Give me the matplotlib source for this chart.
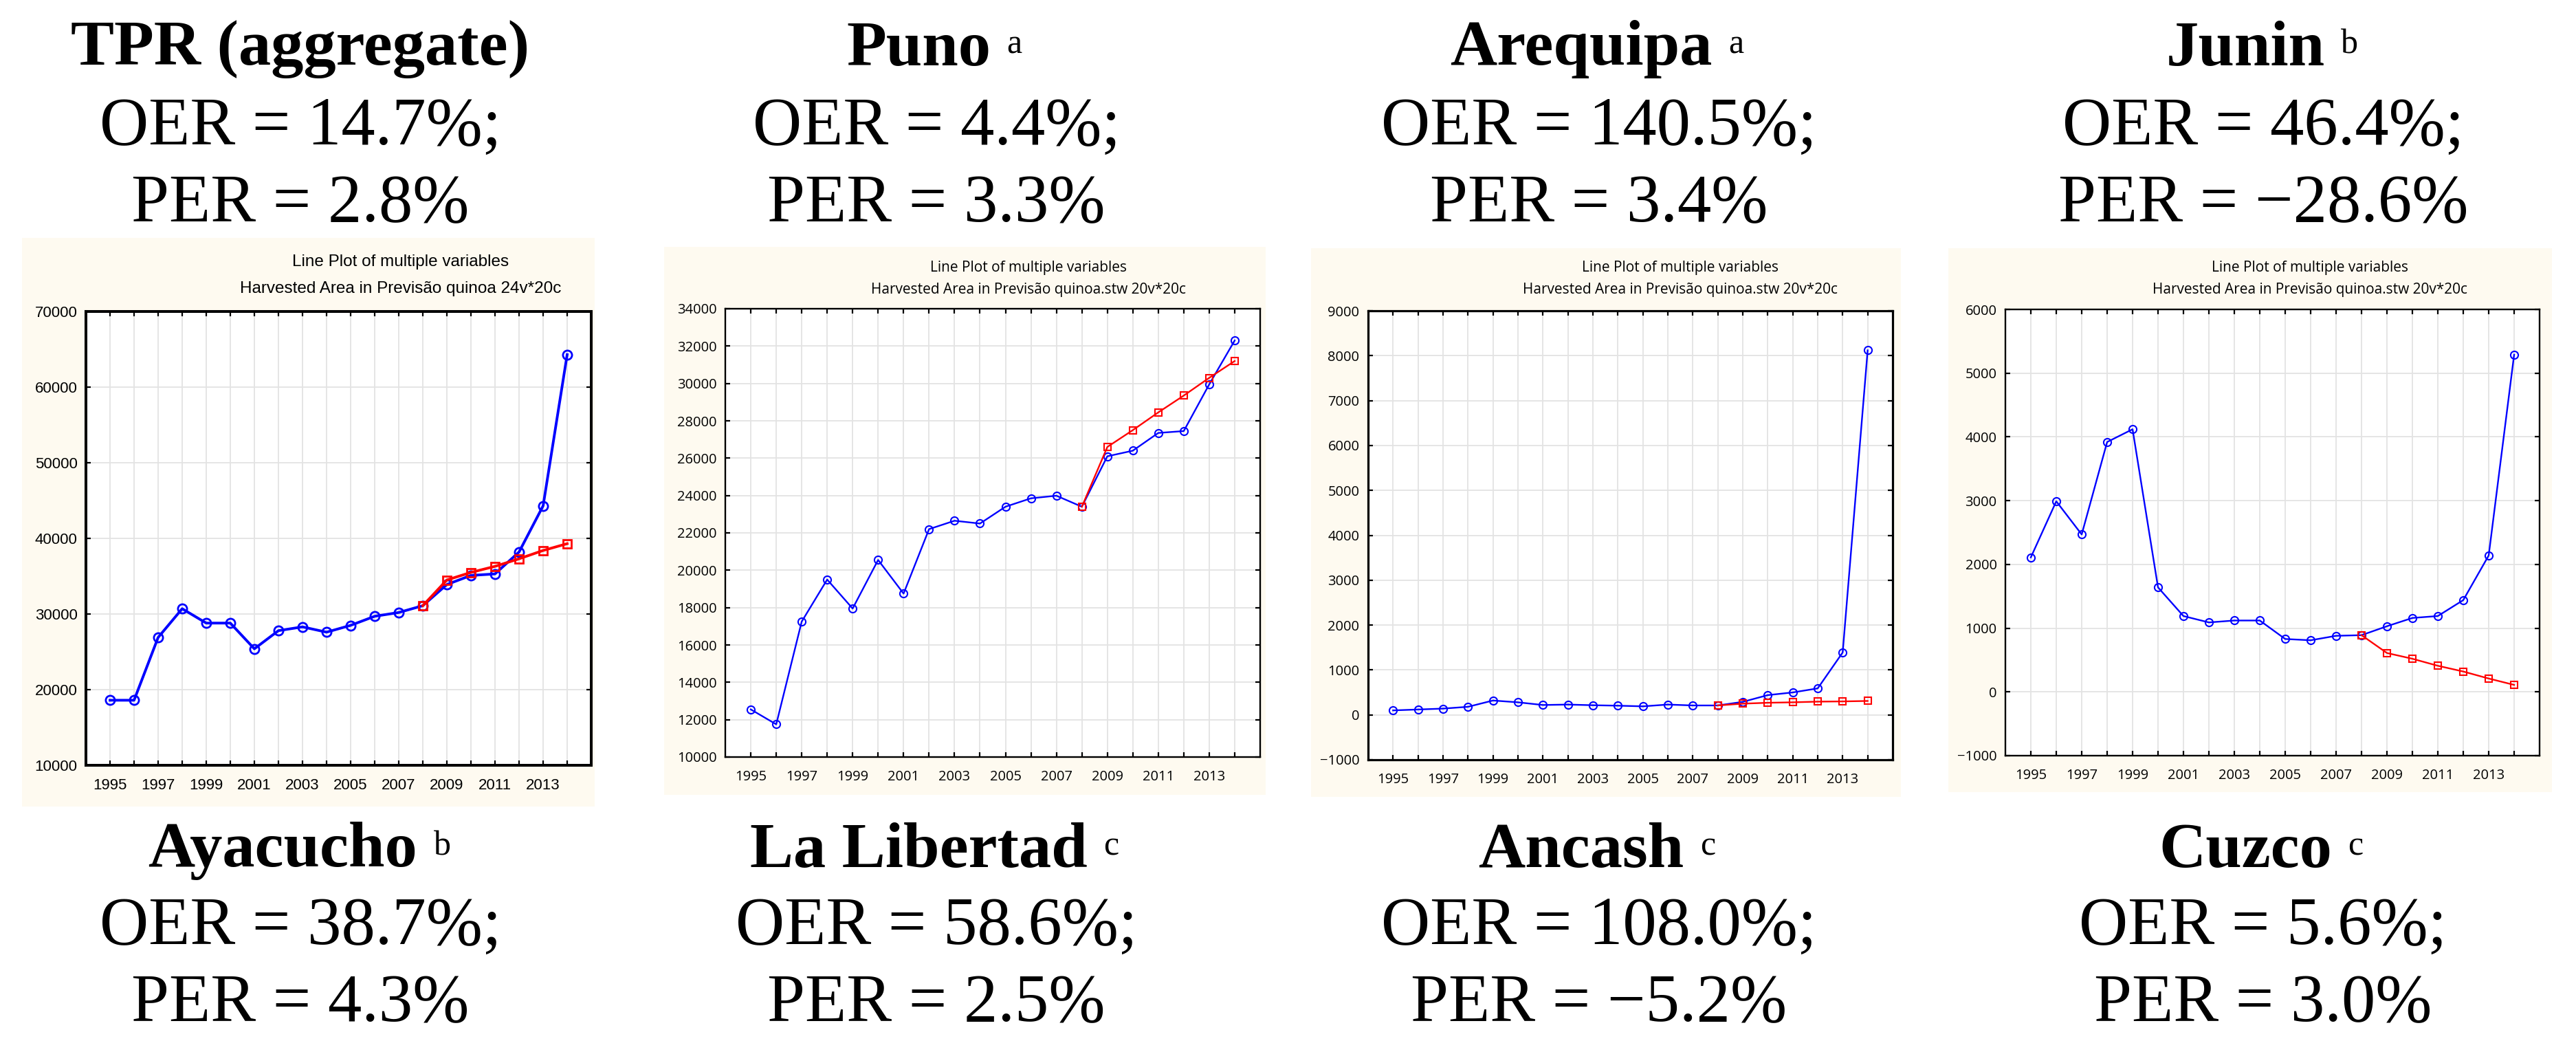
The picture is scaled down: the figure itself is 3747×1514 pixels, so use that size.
import numpy as np
import matplotlib.pyplot as plt
from matplotlib.patches import Rectangle
from matplotlib.text import Annotation

W, H = 3747, 1514
DPI = 100

# ---- data ----
years = [1995, 1996, 1997, 1998, 1999, 2000, 2001, 2002, 2003, 2004,
         2005, 2006, 2007, 2008, 2009, 2010, 2011, 2012, 2013, 2014]
proj_years = [2008, 2009, 2010, 2011, 2012, 2013, 2014]

tpr_actual = [18600, 18600, 26900, 30700, 28800, 28800, 25400, 27800, 28300, 27600,
              28500, 29700, 30200, 31100, 33900, 35100, 35300, 38200, 44300, 64300]
tpr_proj = [31100, 34500, 35500, 36300, 37300, 38400, 39300]

puno_actual = [12550, 11750, 17250, 19500, 17950, 20550, 18750, 22200, 22650, 22500,
               23400, 23850, 23990, 23400, 26100, 26400, 27350, 27450, 29950, 32300]
puno_proj = [23400, 26600, 27500, 28450, 29350, 30300, 31200]

arequipa_actual = [100, 120, 140, 180, 320, 280, 220, 230, 215, 205,
                   190, 230, 210, 210, 290, 440, 500, 590, 1390, 8120]
arequipa_proj = [210, 250, 270, 280, 295, 300, 310]

junin_actual = [2110, 2990, 2470, 3920, 4120, 1640, 1190, 1090, 1120, 1120,
                830, 810, 880, 890, 1030, 1160, 1190, 1440, 2140, 5290]
junin_proj = [890, 610, 520, 410, 320, 210, 110]

top_names = ["TPR (aggregate)", "Puno", "Arequipa", "Junin"]
top_marks = ["", "a", "a", "b"]
top_oer = ["14.7%", "4.4%", "140.5%", "46.4%"]
top_per = ["2.8%", "3.3%", "3.4%", "\u221228.6%"]
bottom_names = ["Ayacucho", "La Libertad", "Ancash", "Cuzco"]
bottom_marks = ["b", "c", "c", "c"]
bottom_oer = ["38.7%", "58.6%", "108.0%", "5.6%"]
bottom_per = ["4.3%", "2.5%", "\u22125.2%", "3.0%"]

subtitles = ["Harvested Area in Previs\u00e3o quinoa 24v*20c",
             "Harvested Area in Previs\u00e3o quinoa.stw 20v*20c",
             "Harvested Area in Previs\u00e3o quinoa.stw 20v*20c",
             "Harvested Area in Previs\u00e3o quinoa.stw 20v*20c"]
yranges = [(10000, 70000, 10000), (10000, 34000, 2000), (-1000, 9000, 1000), (-1000, 6000, 1000)]
actual_series = [tpr_actual, puno_actual, arequipa_actual, junin_actual]
proj_series = [tpr_proj, puno_proj, arequipa_proj, junin_proj]

# ---- layout (pixels, top-left origin) ----
bg_boxes = [(32, 346, 865, 1173), (966, 359, 1841, 1156), (1907, 361, 2765, 1159), (2834, 361, 3712, 1152)]
ax_boxes = [(125, 453, 860, 1113), (1055, 449, 1833, 1101), (1990, 452, 2753, 1105), (2917, 450, 3694, 1099)]
title_x = [583, 1496, 2444, 3360]
title_y = [(381, 420), (390, 421), (390, 421), (390, 421)]
col_x = [437, 1362, 2326, 3292]
top_rows = [72, 186, 298]
bottom_rows = [1238, 1349, 1461]
BG = '#fefaf0'

fig = plt.figure(figsize=(W / DPI, H / DPI), dpi=DPI)


def fx(x):
    return x / W


def fy(y):
    return 1 - y / H


for i in range(4):
    x0, y0, x1, y1 = bg_boxes[i]
    fig.add_artist(Rectangle((fx(x0), fy(y1)), (x1 - x0) / W, (y1 - y0) / H,
                             transform=fig.transFigure, facecolor=BG, edgecolor='none', zorder=-5))
    a0, b0, a1, b1 = ax_boxes[i]
    ax = fig.add_axes([fx(a0), fy(b1), (a1 - a0) / W, (b1 - b0) / H])
    ax.set_facecolor('white')

    if i == 0:
        font = 'Liberation Sans'
        fs, tfs = 16, 17.5
        lw, ms, mew, spw = 2.8, 9.5, 2.0, 2.9
    else:
        font = 'Open Sans'
        fs, tfs = 14.5, 15
        lw, ms, mew, spw = 1.7, 8, 1.5, 1.7 if i != 2 else 2.3

    ax.plot(years, actual_series[i], color='#0000ff', lw=lw, marker='o', ms=ms,
            mfc='none', mew=mew, zorder=3)
    ax.plot(proj_years, proj_series[i], color='#ff0000', lw=lw, marker='s', ms=ms * 0.95,
            mfc='none', mew=mew, zorder=4)

    lo, hi, step = yranges[i]
    ax.set_xlim(1994, 2015)
    ax.set_ylim(lo, hi)
    ax.set_xticks(years)
    ax.set_xticklabels([str(y) if (y - 1995) % 2 == 0 else '' for y in years])
    ax.set_yticks(np.arange(lo, hi + step, step))
    ax.grid(True, color='#e3e3e3', lw=1.3)
    ax.set_axisbelow(True)
    ax.tick_params(direction='in', length=5, width=1.6, top=True, right=True,
                   labelsize=fs, color='black')
    ax.tick_params(axis='y', pad=9)
    ax.tick_params(axis='x', pad=14)
    for lab in ax.get_xticklabels() + ax.get_yticklabels():
        lab.set_fontfamily(font)
    for sp in ax.spines.values():
        sp.set_linewidth(spw)
        sp.set_color('black')

    fig.text(fx(title_x[i]), fy(title_y[i][0]), "Line Plot of multiple variables",
             ha='center', va='center', fontsize=tfs, family=font)
    fig.text(fx(title_x[i]), fy(title_y[i][1]), subtitles[i],
             ha='center', va='center', fontsize=tfs, family=font)

# ---- header / footer text ----
NFS = 68   # bold region names
RFS = 71   # OER / PER lines
SFS = 36   # superscript note letters


def region_name(x, y, name, mark):
    shift = 26 if mark else 0
    t = fig.text(fx(x - shift), fy(y), name, ha='center', va='center',
                 fontsize=NFS, family='Liberation Serif', fontweight='bold')
    if mark:
        fig.add_artist(Annotation(mark, xy=(1, 1), xycoords=t, xytext=(17, -9),
                                  textcoords='offset points', ha='left', va='top',
                                  fontsize=SFS, family='Liberation Serif'))


for i in range(4):
    region_name(col_x[i], top_rows[0], top_names[i], top_marks[i])
    fig.text(fx(col_x[i]), fy(top_rows[1]), "OER = " + top_oer[i] + ";", ha='center', va='center',
             fontsize=RFS, family='Liberation Serif')
    fig.text(fx(col_x[i]), fy(top_rows[2]), "PER = " + top_per[i], ha='center', va='center',
             fontsize=RFS, family='Liberation Serif')
    region_name(col_x[i], bottom_rows[0], bottom_names[i], bottom_marks[i])
    fig.text(fx(col_x[i]), fy(bottom_rows[1]), "OER = " + bottom_oer[i] + ";", ha='center', va='center',
             fontsize=RFS, family='Liberation Serif')
    fig.text(fx(col_x[i]), fy(bottom_rows[2]), "PER = " + bottom_per[i], ha='center', va='center',
             fontsize=RFS, family='Liberation Serif')

fig.savefig('out.png', dpi=DPI, facecolor='white')
